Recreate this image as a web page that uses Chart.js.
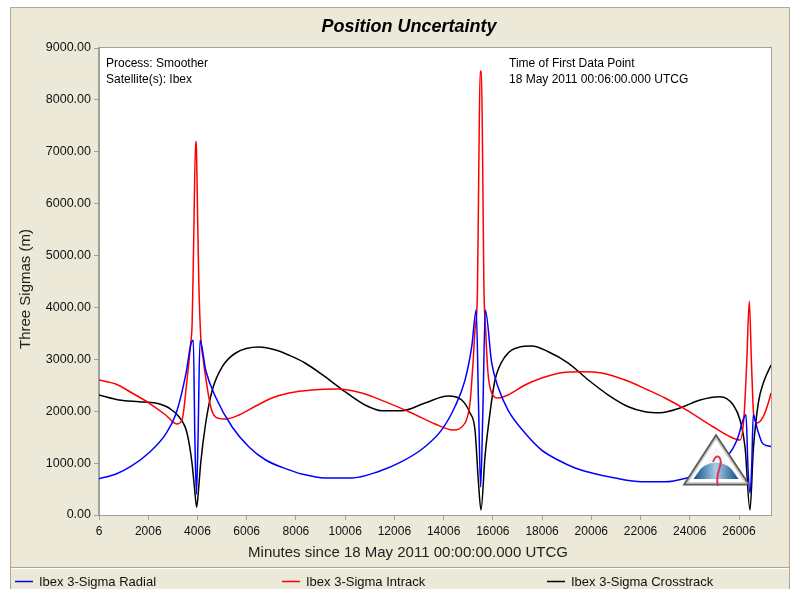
<!DOCTYPE html>
<html>
<head>
<meta charset="utf-8">
<script src="https://cdn.jsdelivr.net/npm/chart.js@4.4.1/dist/chart.umd.min.js"></script>
<style>
  html, body { margin: 0; padding: 0; background: #ffffff; }
  canvas { display: block; }
</style>
</head>
<body>
<canvas id="uncertaintyChart" width="794" height="589"></canvas>
<script>
// minutes since 18 May 2011 00:00 UTCG
const xTickValues = [6, 2006, 4006, 6006, 8006, 10006, 12006, 14006, 16006, 18006, 20006, 22006, 24006, 26006];
const yTickStep = 1000;

const radialMinutes = [6, 700, 1347, 2037, 2728, 3134, 3540, 3743, 3837, 3900,
  3964, 4030, 4109, 4341, 4747, 5409, 6099, 6778, 7725, 8241,
  9188, 10272, 11340, 12303, 13250, 13928, 14469, 14875, 15147, 15330,
  15430, 15510, 15600, 15700, 15959, 16215, 16622, 17312, 17990, 18653,
  19344, 20024, 20968, 22050, 23000, 23881, 24422, 25234, 25640, 25966,
  26169, 26290, 26372, 26453, 26520, 26586, 26760, 26950, 27170, 27306];
const radialSigma = [700, 790, 950, 1200, 1570, 1950, 2730, 3300, 3370, 1500,
  400, 1500, 3370, 2790, 2270, 1700, 1310, 1060, 870, 790,
  713, 713, 835, 1027, 1316, 1640, 2090, 2600, 3240, 3950,
  2000, 540, 2000, 3950, 2930, 2470, 2020, 1580, 1250, 1060,
  906, 810, 713, 642, 640, 713, 800, 1050, 1200, 1500,
  1830, 1930, 900, 420, 900, 1930, 1640, 1390, 1335, 1320];

const intrackMinutes = [6, 684, 1347, 2037, 2716, 3163, 3378, 3581, 3731, 3790,
  3850, 3930, 3965, 4010, 4060, 4138, 4240, 4341, 4544, 4747,
  5153, 5693, 6372, 7034, 7725, 8647, 9716, 10678, 11625, 12709,
  13656, 14387, 14875, 15078, 15200, 15281, 15380, 15440, 15490, 15540,
  15590, 15640, 15720, 15809, 15959, 16215, 16622, 17312, 17990, 18803,
  19616, 20428, 21375, 22309, 23000, 23881, 24950, 25640, 26047, 26209,
  26319, 26425, 26513, 26609, 26748, 26990, 27196, 27306];
const intrackSigma = [2600, 2524, 2351, 2158, 1927, 1754, 1831, 2600, 3314, 3700,
  5200, 7200, 7050, 5800, 4500, 3450, 3000, 2650, 2087, 1888,
  1850, 1927, 2100, 2255, 2351, 2409, 2428, 2351, 2184, 1965,
  1754, 1638, 1773, 2158, 2929, 3565, 4300, 6900, 8550, 8550,
  6900, 4500, 3500, 2736, 2351, 2255, 2312, 2505, 2640, 2742,
  2762, 2736, 2601, 2409, 2255, 2023, 1701, 1509, 1445, 1894,
  2929, 4120, 2929, 1894, 1773, 1894, 2158, 2351];

const crosstrackMinutes = [6, 818, 1631, 2309, 2850, 3256, 3581, 3784, 3880, 3975,
  4060, 4138, 4341, 4609, 5015, 5559, 6506, 7184, 7725, 8375,
  9188, 9999, 10812, 11491, 12303, 13250, 14196, 14741, 15078, 15281,
  15415, 15525, 15687, 15890, 16094, 16500, 17040, 17584, 18258, 19071,
  19886, 20697, 21509, 22187, 22797, 23609, 24422, 25234, 25774, 26047,
  26250, 26453, 26586, 26790, 26990, 27306];
const crosstrackSigma = [2312, 2216, 2184, 2158, 2062, 1894, 1580, 1002, 550, 150,
  550, 1002, 1773, 2409, 2858, 3122, 3237, 3180, 3080, 2929,
  2665, 2376, 2120, 2010, 2010, 2158, 2293, 2216, 1965, 1638,
  674, 96, 1124, 1965, 2601, 3050, 3230, 3256, 3147, 2929,
  2601, 2312, 2087, 1991, 1971, 2062, 2216, 2280, 2120, 1831,
  1316, 96, 1253, 2158, 2538, 2890];

const seriesNames = ['Ibex 3-Sigma Radial', 'Ibex 3-Sigma Intrack', 'Ibex 3-Sigma Crosstrack'];
const seriesColors = ['#0000ff', '#ff0000', '#000000'];

const FONT = "'Liberation Sans', Arial, sans-serif";
const PANEL = '#ece9d8';
const EDGE = '#aca899';

function toPoints(xs, ys) {
  return xs.map((x, i) => ({ x: x, y: ys[i] }));
}

// background panel, plot area and the little triangle badge
const panelPlugin = {
  id: 'panel',
  beforeDraw(chart) {
    const ctx = chart.ctx;
    const a = chart.chartArea;
    ctx.save();
    ctx.fillStyle = '#ffffff';
    ctx.fillRect(0, 0, chart.width, chart.height);
    ctx.fillStyle = PANEL;
    ctx.fillRect(10, 7, 780, 582);
    ctx.strokeStyle = EDGE;
    ctx.lineWidth = 1;
    ctx.beginPath();
    ctx.moveTo(10.5, 589);
    ctx.lineTo(10.5, 7.5);
    ctx.lineTo(789.5, 7.5);
    ctx.lineTo(789.5, 589);
    ctx.stroke();
    // legend strip divider
    ctx.beginPath();
    ctx.moveTo(11, 567.5);
    ctx.lineTo(789, 567.5);
    ctx.stroke();
    ctx.strokeStyle = '#ffffff';
    ctx.beginPath();
    ctx.moveTo(11, 568.5);
    ctx.lineTo(789, 568.5);
    ctx.stroke();
    ctx.fillStyle = '#ffffff';
    ctx.fillRect(a.left, a.top, a.right - a.left, a.bottom - a.top);
    ctx.strokeStyle = '#a0a0a0';
    ctx.strokeRect(a.left - 0.5, a.top - 0.5, a.right - a.left + 1, a.bottom - a.top + 1);
    ctx.restore();
  },
  afterDatasetsDraw(chart) {
    const ctx = chart.ctx;
    ctx.save();
    const apex = [716, 438], bl = [687, 483], br = [746, 483];
    // outer grey frame
    ctx.beginPath();
    ctx.moveTo(apex[0], apex[1]);
    ctx.lineTo(br[0], br[1]);
    ctx.lineTo(bl[0], bl[1]);
    ctx.closePath();
    ctx.lineJoin = 'miter';
    ctx.lineWidth = 5;
    ctx.strokeStyle = '#5a5a5a';
    ctx.stroke();
    ctx.fillStyle = '#ffffff';
    ctx.fill();
    ctx.lineWidth = 1.5;
    ctx.strokeStyle = '#c8c8c8';
    ctx.stroke();
    // inner triangle with blue dome
    ctx.beginPath();
    ctx.moveTo(716, 447);
    ctx.lineTo(738.5, 479);
    ctx.lineTo(693.5, 479);
    ctx.closePath();
    ctx.fillStyle = '#f4f8fb';
    ctx.fill();
    ctx.clip();
    const g = ctx.createLinearGradient(693, 0, 739, 0);
    g.addColorStop(0, '#0a4a88');
    g.addColorStop(0.5, '#a9cde6');
    g.addColorStop(1, '#0a4a88');
    ctx.fillStyle = g;
    ctx.beginPath();
    ctx.moveTo(689, 481);
    ctx.quadraticCurveTo(716, 444, 743, 481);
    ctx.closePath();
    ctx.fill();
    ctx.restore();
    // red swoosh
    ctx.save();
    ctx.strokeStyle = '#e2344f';
    ctx.lineWidth = 2;
    ctx.beginPath();
    ctx.moveTo(713, 462);
    ctx.bezierCurveTo(716, 452, 724, 456, 719, 470);
    ctx.quadraticCurveTo(716, 478, 718, 486);
    ctx.stroke();
    ctx.restore();
  },
  afterDraw(chart) {
    const ctx = chart.ctx;
    const a = chart.chartArea;
    ctx.save();
    ctx.fillStyle = '#000000';
    ctx.textAlign = 'center';
    ctx.textBaseline = 'middle';
    ctx.font = 'italic bold 18px ' + FONT;
    ctx.fillText('Position Uncertainty', 409, 27);

    ctx.font = '15px ' + FONT;
    ctx.fillStyle = '#222222';
    ctx.fillText('Minutes since 18 May 2011 00:00:00.000 UTCG', 408, 553);
    ctx.save();
    ctx.translate(26, 289);
    ctx.rotate(-Math.PI / 2);
    ctx.fillText('Three Sigmas (m)', 0, 0);
    ctx.restore();

    ctx.fillStyle = '#000000';
    ctx.textAlign = 'left';
    ctx.textBaseline = 'top';
    ctx.font = '12px ' + FONT;
    ctx.fillText('Process: Smoother', a.left + 7, 58);
    ctx.fillText('Satellite(s): Ibex', a.left + 7, 74);
    ctx.fillText('Time of First Data Point', 509, 58);
    ctx.fillText('18 May 2011 00:06:00.000 UTCG', 509, 74);

    // legend strip
    const legendX = [15, 282, 547];
    ctx.font = '13px ' + FONT;
    ctx.textBaseline = 'middle';
    seriesNames.forEach((name, i) => {
      ctx.strokeStyle = seriesColors[i];
      ctx.lineWidth = 1.5;
      ctx.beginPath();
      ctx.moveTo(legendX[i], 581.5);
      ctx.lineTo(legendX[i] + 18, 581.5);
      ctx.stroke();
      ctx.fillStyle = '#111111';
      ctx.fillText(name, legendX[i] + 24, 582);
    });
    ctx.restore();
  }
};

const datasets = [
  toPoints(radialMinutes, radialSigma),
  toPoints(intrackMinutes, intrackSigma),
  toPoints(crosstrackMinutes, crosstrackSigma)
].map((pts, i) => ({
  label: seriesNames[i],
  data: pts,
  borderColor: seriesColors[i],
  backgroundColor: seriesColors[i],
  borderWidth: 1.5,
  pointRadius: 0,
  cubicInterpolationMode: 'monotone',
  fill: false
}));

new Chart(document.getElementById('uncertaintyChart').getContext('2d'), {
  type: 'line',
  data: { datasets: datasets },
  options: {
    responsive: false,
    animation: false,
    events: [],
    layout: { padding: { top: 48, right: 23, left: 0, bottom: 0 } },
    plugins: {
      legend: { display: false },
      title: { display: false },
      tooltip: { enabled: false }
    },
    scales: {
      x: {
        type: 'linear',
        min: 6,
        max: 27306,
        afterBuildTicks(scale) {
          scale.ticks = xTickValues.map(v => ({ value: v }));
        },
        afterFit(scale) { scale.height = 74; },
        ticks: {
          autoSkip: false,
          maxRotation: 0,
          padding: 4,
          color: '#111111',
          font: { family: FONT, size: 12 },
          callback: v => String(v)
        },
        grid: {
          drawOnChartArea: false,
          drawTicks: true,
          tickLength: 5,
          color: '#a0a0a0'
        },
        border: { color: '#a0a0a0' }
      },
      y: {
        min: 0,
        max: 9000,
        afterFit(scale) { scale.width = 99; },
        ticks: {
          stepSize: yTickStep,
          padding: 3,
          color: '#111111',
          font: { family: FONT, size: 12.5 },
          callback: v => v.toFixed(2)
        },
        grid: {
          drawOnChartArea: false,
          drawTicks: true,
          tickLength: 5,
          color: '#a0a0a0'
        },
        border: { color: '#a0a0a0' }
      }
    }
  },
  plugins: [panelPlugin]
});
</script>
</body>
</html>
